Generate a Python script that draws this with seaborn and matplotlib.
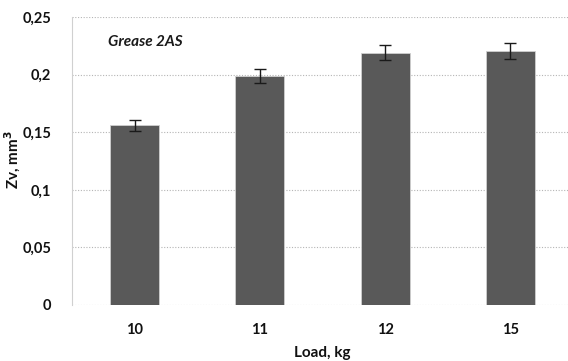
import matplotlib
matplotlib.use("Agg")
import matplotlib.pyplot as plt
import seaborn as sns
import pandas as pd

loads = ["10", "11", "12", "15"]
zv = [0.156, 0.199, 0.219, 0.2205]
zv_err = [0.0048, 0.006, 0.0065, 0.0066]
y_ticks = [0, 0.05, 0.1, 0.15, 0.2, 0.25]
y_tick_labels = ["0", "0,05", "0,1", "0,15", "0,2", "0,25"]

sns.set_theme(style="white")
plt.rcParams["font.family"] = ["Lato", "DejaVu Sans"]

df = pd.DataFrame({"Load": loads, "Zv": zv})

fig = plt.figure(figsize=(5.68, 3.61), dpi=100)
ax = fig.add_axes([72 / 568, 1 - 305 / 361, 496 / 568, 288 / 361])

sns.barplot(data=df, x="Load", y="Zv", color="#595959", width=0.39,
            edgecolor="#d0d0d0", linewidth=0.6, saturation=1, ax=ax,
            errorbar=None, zorder=3)
ax.errorbar(range(len(loads)), zv, yerr=zv_err, fmt="none", ecolor="#1a1a1a",
            elinewidth=1.0, capsize=4, capthick=1.0, zorder=4)

ax.set_xlim(-0.5, 3.46)
ax.set_ylim(0, 0.25)
ax.set_yticks(y_ticks)
ax.set_yticklabels(y_tick_labels)
ax.grid(axis="y", color="#b5b5b5", linestyle=(0, (1, 1.5)), linewidth=0.8, zorder=0)
ax.grid(axis="x", visible=False)

for side in ["top", "right", "bottom"]:
    ax.spines[side].set_visible(False)
ax.spines["left"].set_color("#d0d0d0")
ax.spines["left"].set_linewidth(0.8)

ax.tick_params(axis="both", length=0, labelsize=10.5)
ax.tick_params(axis="y", pad=15)
ax.tick_params(axis="x", pad=13)
for lbl in ax.get_xticklabels() + ax.get_yticklabels():
    lbl.set_fontweight("bold")
    lbl.set_color("#111111")

ax.set_xlabel("")
ax.set_ylabel("")
fig.text(322 / 568, 1 - 353 / 361, "Load, kg", fontsize=11, fontweight="bold",
         ha="center", va="center", color="#111111")
fig.text(13 / 568, 1 - 160 / 361, "Zv, mm$^\\mathbf{3}$", fontsize=11,
         fontweight="bold", rotation=90, ha="center", va="center", color="#111111")

ax.text(0.073, 0.9, "Grease 2AS", transform=ax.transAxes, fontsize=11,
        fontweight="bold", fontstyle="italic", color="#1a1a1a")

fig.savefig("out.png", dpi=100)
